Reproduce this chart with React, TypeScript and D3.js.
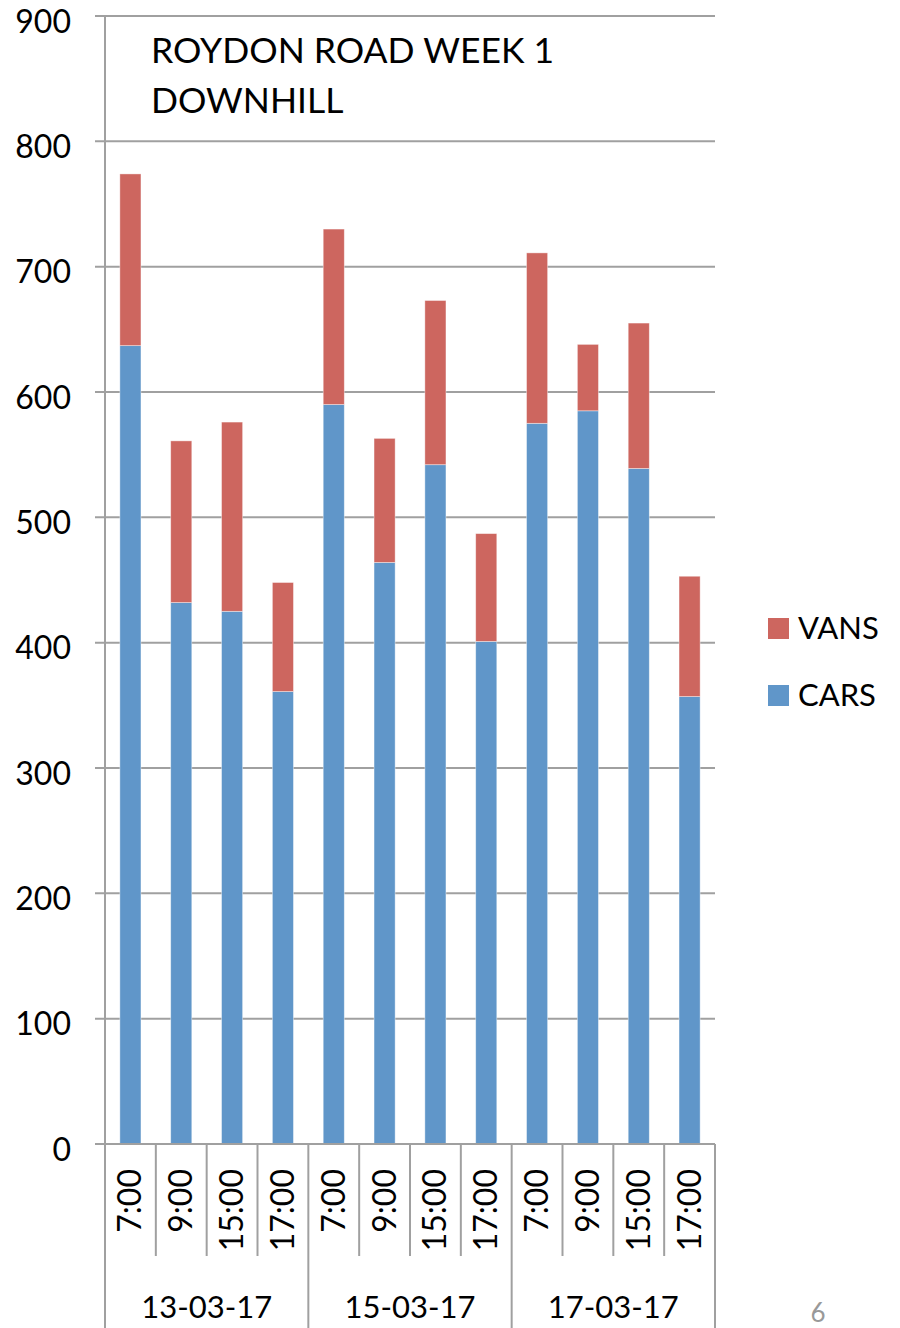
import React from 'react';
import * as d3 from 'd3';

const dates = ['13-03-17', '15-03-17', '17-03-17'];
const times = ['7:00', '9:00', '15:00', '17:00'];
const cars = [637, 432, 425, 361, 590, 464, 542, 401, 575, 585, 539, 357];
const vans = [137, 129, 151, 87, 140, 99, 131, 86, 136, 53, 116, 96];
const yTicks = [0, 100, 200, 300, 400, 500, 600, 700, 800, 900];
const seriesNames = ['CARS', 'VANS'];
const colors: Record<string, string> = { CARS: '#6096C9', VANS: '#CD665F' };
const titleLines = ['ROYDON ROAD WEEK 1', 'DOWNHILL'];

const W = 900, H = 1328;
const left = 105, right = 715, top = 16, bottom = 1144;
const FONT = 'Lato, "Open Sans", sans-serif';
const GRID = '#A0A0A0';

export default function App() {
  const rows = cars.map((c, i) => ({ idx: i, CARS: c, VANS: vans[i] }));
  const stack = d3.stack<any>().keys(seriesNames);
  const layers = stack(rows);

  const x = d3.scaleBand<number>()
    .domain(d3.range(cars.length))
    .range([left, right])
    .paddingInner(0.585)
    .paddingOuter(0.2925);
  const step = (right - left) / cars.length;
  const y = d3.scaleLinear().domain([0, 900]).range([bottom, top]);

  const groupW = step * times.length;

  return (
    <svg width={W} height={H} style={{ position: 'absolute', left: 0, top: 0, background: '#fff' }}>
      {/* gridlines */}
      {yTicks.map(t => (
        <line key={'g' + t} x1={left - 10} x2={right} y1={y(t)} y2={y(t)} stroke={GRID} strokeWidth={2} />
      ))}
      {/* y axis */}
      <line x1={left} x2={left} y1={top} y2={bottom} stroke={GRID} strokeWidth={2} />
      {yTicks.map(t => (
        <text key={'yl' + t} x={71} y={y(t) + 4} textAnchor="end" dominantBaseline="central"
          fontFamily={FONT} fontSize={32} fill="#000">{t}</text>
      ))}
      {/* bars */}
      {layers.map(layer => (
        <g key={layer.key} fill={colors[layer.key]}>
          {layer.map((d, i) => (
            <rect key={i} x={x(i)} width={x.bandwidth()} y={y(d[1])} height={y(d[0]) - y(d[1])}
              stroke="#fff" strokeOpacity={0.5} strokeWidth={0.8} />
          ))}
        </g>
      ))}
      {/* title */}
      {titleLines.map((t, i) => (
        <text key={'t' + i} x={151} y={63 + i * 50} fontFamily={FONT} fontSize={35.5} fill="#000">{t}</text>
      ))}
      {/* x axis category boxes */}
      <line x1={left - 10} x2={right} y1={bottom} y2={bottom} stroke={GRID} strokeWidth={2} />
      {d3.range(cars.length + 1).map(i => {
        const isGroup = i % times.length === 0;
        const xx = left + i * step;
        return (
          <line key={'d' + i} x1={xx} x2={xx} y1={bottom} y2={isGroup ? H : 1256}
            stroke={GRID} strokeWidth={2} />
        );
      })}
      {cars.map((_, i) => {
        const cx = (x(i) as number) + x.bandwidth() / 2;
        const label = times[i % times.length];
        return (
          <text key={'tl' + i} transform={`translate(${cx + 11},1169) rotate(-90)`}
            textAnchor="end" fontFamily={FONT} fontSize={32} fill="#000">{label}</text>
        );
      })}
      {dates.map((d, i) => (
        <text key={'dl' + i} x={left + groupW * i + groupW / 2} y={1318} textAnchor="middle"
          fontFamily={FONT} fontSize={31} fill="#000">{d}</text>
      ))}
      {/* legend */}
      {['VANS', 'CARS'].map((k, i) => (
        <g key={'lg' + k} transform={`translate(768,${618 + i * 67})`}>
          <rect x={0} y={0} width={21} height={21} fill={colors[k]} />
          <text x={30} y={21} fontFamily={FONT} fontSize={31} fill="#000">{k}</text>
        </g>
      ))}
      {/* page number */}
      <text x={818} y={1322} textAnchor="middle" fontFamily={FONT} fontSize={26} fill="#999">6</text>
    </svg>
  );
}
